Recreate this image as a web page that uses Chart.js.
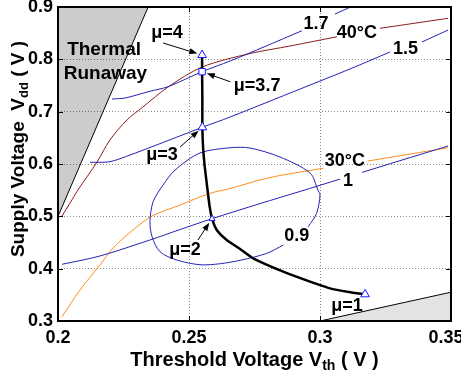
<!DOCTYPE html>
<html>
<head>
<meta charset="utf-8">
<script src="https://cdn.jsdelivr.net/npm/chart.js@4.4.0/dist/chart.umd.min.js"></script>
<style>
html, body { margin: 0; padding: 0; background: #fff; }
#wrap { width: 461px; height: 375px; }
</style>
</head>
<body>
<div id="wrap"><canvas id="chart"></canvas></div>
<script>
// axes
const xTicks = [0.2, 0.25, 0.3, 0.35];
const xTickLabels = ['0.2', '0.25', '0.3', '0.35'];
const yTicks = [0.3, 0.4, 0.5, 0.6, 0.7, 0.8, 0.9];
const yTickLabels = ['0.3', '0.4', '0.5', '0.6', '0.7', '0.8', '0.9'];

// shaded regions: thermal runaway (top left) and the lower right corner
const runawayX = [0.2, 0.2344];
const runawayY = [0.5, 0.9];
const lowX = [0.3, 0.35];
const lowY = [0.3, 0.355];

// iso lines (null = gap where the inline label sits)
const iso09X = [0.2860, 0.2797, 0.2700, 0.2620, 0.2542, 0.2454, 0.2389, 0.2359, 0.2351, 0.2363, 0.2401, 0.2447, 0.2542, 0.2657, 0.2733, 0.2847, 0.2962, 0.2992, 0.3000, 0.2987, 0.2955];
const iso09Y = [0.4452, 0.4293, 0.4165, 0.4095, 0.4075, 0.4165, 0.4324, 0.4611, 0.4897, 0.5279, 0.5598, 0.5885, 0.6210, 0.6311, 0.6305, 0.6134, 0.5828, 0.5503, 0.5407, 0.5058, 0.4801];

const iso1X = [0.2015, 0.2160, 0.2351, 0.2466, 0.2588, 0.2771, 0.2924, 0.3076, 0.3118, 0.3160, 0.3305, 0.3489];
const iso1Y = [0.4083, 0.4242, 0.4548, 0.4748, 0.4955, 0.5243, 0.5476, 0.5711, null, 0.5839, 0.6063, 0.6344];

const iso15X = [0.2122, 0.2198, 0.2275, 0.2351, 0.2551, 0.2657, 0.2924, 0.3115, 0.3267, 0.3328, 0.3389, 0.3489];
const iso15Y = [0.6032, 0.6044, 0.6172, 0.6315, 0.6701, 0.6898, 0.7433, 0.7817, 0.8140, null, 0.8331, 0.8560];

const iso17X = [0.2206, 0.2256, 0.2351, 0.2420, 0.2550, 0.2657, 0.2790, 0.2931, 0.2995, 0.3057, 0.3122];
const iso17Y = [0.7242, 0.7261, 0.7390, 0.7477, 0.7764, 0.7968, 0.8245, 0.8547, null, 0.8866, 0.9010];

// temperature lines
const t40X = [0.2015, 0.2046, 0.2076, 0.2149, 0.2198, 0.2263, 0.2324, 0.2420, 0.2550, 0.2733, 0.2886, 0.3065, 0.3147, 0.3229, 0.3489];
const t40Y = [0.5006, 0.5254, 0.5503, 0.6038, 0.6458, 0.6841, 0.7089, 0.7471, 0.7853, 0.8111, 0.8255, 0.8432, null, 0.8593, 0.8784];

const t30X = [0.2015, 0.2084, 0.2160, 0.2210, 0.2286, 0.2359, 0.2466, 0.2580, 0.2657, 0.2771, 0.2847, 0.3012, 0.3098, 0.3183, 0.3489];
const t30Y = [0.3081, 0.3592, 0.4070, 0.4394, 0.4739, 0.5006, 0.5216, 0.5440, 0.5532, 0.5694, 0.5780, 0.5918, null, 0.6057, 0.6311];

// optimum path (black)
const pathX = [0.2550, 0.2550, 0.2551, 0.2551, 0.2554, 0.2559, 0.2566, 0.2572, 0.2579, 0.2588, 0.2606, 0.2644, 0.2695, 0.2745, 0.2860, 0.2962, 0.3038, 0.3110, 0.3172];
const pathY = [0.8083, 0.7764, 0.7223, 0.6701, 0.6300, 0.6000, 0.5700, 0.5450, 0.5180, 0.4955, 0.4738, 0.4547, 0.4375, 0.4198, 0.3942, 0.3751, 0.3624, 0.3555, 0.3510];

// mu markers
const muX = [0.2550, 0.2550, 0.2551, 0.2588, 0.3172];
const muY = [0.8083, 0.7764, 0.6701, 0.4955, 0.3510];
const muLabels = ['μ=4', 'μ=3.7', 'μ=3', 'μ=2', 'μ=1'];
const muLabelX = [0.2416, 0.2760, 0.2397, 0.2485, 0.3103];
const muLabelY = [0.8503, 0.7490, 0.6172, 0.4356, 0.3286];
const arrowFromX = [0.2401, 0.2657, 0.2466, 0.2534];
const arrowFromY = [0.8312, 0.7572, 0.6325, 0.4547];

// inline curve labels
const curveLabels = ['1.7', '40°C', '1.5', '30°C', '1', '0.9'];
const curveLabelX = [0.2985, 0.3141, 0.3326, 0.3095, 0.3107, 0.2911];
const curveLabelY = [0.8680, 0.8503, 0.8197, 0.6048, 0.5675, 0.4624];
const regionLabels = ['Thermal', 'Runaway'];
const regionLabelX = [0.2176, 0.2181];
const regionLabelY = [0.8178, 0.7720];

const FONT = '"Liberation Sans", Arial, Helvetica, sans-serif';
const BLUE = '#2323b4';

const pts = (xs, ys) => xs.map((x, i) => ({ x: x, y: ys[i] }));

function line(data, color, width, order) {
    return {
        data: data,
        borderColor: color,
        borderWidth: width,
        pointRadius: 0,
        fill: false,
        tension: 0.3,
        spanGaps: false,
        order: order
    };
}

function arrow(ctx, x0, y0, x1, y1) {
    const a = Math.atan2(y1 - y0, x1 - x0);
    const c = Math.cos(a), s = Math.sin(a);
    const ex = x1 - 5 * c, ey = y1 - 5 * s;
    ctx.beginPath();
    ctx.moveTo(x0, y0);
    ctx.lineTo(ex - 4 * c, ey - 4 * s);
    ctx.stroke();
    ctx.beginPath();
    ctx.moveTo(ex, ey);
    ctx.lineTo(ex - 8 * c + 3 * s, ey - 8 * s - 3 * c);
    ctx.lineTo(ex - 8 * c - 3 * s, ey - 8 * s + 3 * c);
    ctx.closePath();
    ctx.fill();
}

// text with a subscript part
function richText(ctx, parts, cx, base, size, subSize) {
    let total = 0;
    parts.forEach(p => {
        ctx.font = 'bold ' + (p.sub ? subSize : size) + 'px ' + FONT;
        p.w = ctx.measureText(p.t).width;
        total += p.w;
    });
    let x = cx - total / 2;
    ctx.textAlign = 'left';
    ctx.textBaseline = 'alphabetic';
    parts.forEach(p => {
        ctx.font = 'bold ' + (p.sub ? subSize : size) + 'px ' + FONT;
        ctx.fillText(p.t, x, base + (p.sub ? 4 : 0));
        x += p.w;
    });
}

const overlay = {
    id: 'overlay',
    afterDatasetsDraw(chart) {
        const { ctx, scales: { x, y } } = chart;
        ctx.save();
        ctx.fillStyle = '#000';
        ctx.strokeStyle = '#000';
        ctx.lineWidth = 1;
        arrowFromX.forEach((v, i) => {
            arrow(ctx, x.getPixelForValue(v), y.getPixelForValue(arrowFromY[i]),
                x.getPixelForValue(muX[i]), y.getPixelForValue(muY[i]));
        });
        ctx.textAlign = 'center';
        ctx.textBaseline = 'middle';
        ctx.font = 'bold 18px ' + FONT;
        muLabels.forEach((t, i) => {
            ctx.fillText(t, x.getPixelForValue(muLabelX[i]), y.getPixelForValue(muLabelY[i]));
        });
        curveLabels.forEach((t, i) => {
            ctx.fillText(t, x.getPixelForValue(curveLabelX[i]), y.getPixelForValue(curveLabelY[i]));
        });
        ctx.font = 'bold 19px ' + FONT;
        regionLabels.forEach((t, i) => {
            ctx.fillText(t, x.getPixelForValue(regionLabelX[i]), y.getPixelForValue(regionLabelY[i]));
        });
        ctx.restore();
    },
    afterDraw(chart) {
        const { ctx, chartArea: a, scales: { x, y } } = chart;
        ctx.save();
        ctx.strokeStyle = '#000';
        ctx.lineWidth = 1;
        // inward tick marks
        ctx.beginPath();
        xTicks.slice(1, -1).forEach(v => {
            const px = Math.round(x.getPixelForValue(v)) + 0.5;
            ctx.moveTo(px, a.bottom); ctx.lineTo(px, a.bottom - 5);
            ctx.moveTo(px, a.top); ctx.lineTo(px, a.top + 5);
        });
        yTicks.slice(1, -1).forEach(v => {
            const py = Math.round(y.getPixelForValue(v)) + 0.5;
            ctx.moveTo(a.left, py); ctx.lineTo(a.left + 5, py);
            ctx.moveTo(a.right, py); ctx.lineTo(a.right - 5, py);
        });
        ctx.stroke();
        // frame
        ctx.lineWidth = 2;
        ctx.strokeRect(a.left, a.top, a.right - a.left, a.bottom - a.top);
        // axis titles
        ctx.fillStyle = '#000';
        richText(ctx, [{ t: 'Threshold Voltage V' }, { t: 'th', sub: true }, { t: ' ( V )' }],
            (a.left + a.right) / 2, 366, 20, 14);
        ctx.translate(24, 149);
        ctx.rotate(-Math.PI / 2);
        richText(ctx, [{ t: 'Supply Voltage  V' }, { t: 'dd', sub: true }, { t: ' ( V )' }],
            0, 0, 19, 13);
        ctx.restore();
    }
};

new Chart(document.getElementById('chart'), {
    type: 'line',
    data: {
        datasets: [
            {
                data: pts(runawayX, runawayY),
                borderColor: '#000', borderWidth: 1, pointRadius: 0,
                backgroundColor: 'rgba(0,0,0,0.2)', fill: 'end', order: 10
            },
            {
                data: pts(lowX, lowY),
                borderColor: '#000', borderWidth: 1, pointRadius: 0,
                backgroundColor: 'rgba(0,0,0,0.11)', fill: 'start', order: 10
            },
            line(pts(t30X, t30Y), '#ff8c1a', 1, 6),
            line(pts(t40X, t40Y), '#8e1b1b', 1, 6),
            line(pts(iso09X, iso09Y), BLUE, 1, 5),
            line(pts(iso1X, iso1Y), BLUE, 1, 5),
            line(pts(iso15X, iso15Y), BLUE, 1, 5),
            line(pts(iso17X, iso17Y), BLUE, 1, 5),
            Object.assign(line(pts(pathX, pathY), '#000', 2.5, 2), { tension: 0.2 }),
            {
                data: pts(muX, muY),
                showLine: false,
                pointStyle: ['triangle', 'rect', 'triangle', 'triangle', 'triangle'],
                pointRadius: [5, 4.5, 5, 3.5, 5],
                pointBorderColor: '#1a1aff',
                pointBackgroundColor: '#fff',
                pointBorderWidth: 1,
                order: 1
            }
        ]
    },
    options: {
        responsive: true,
        maintainAspectRatio: false,
        animation: false,
        layout: { padding: { left: 0, right: 10, top: 7, bottom: 0 } },
        plugins: { legend: { display: false }, tooltip: { enabled: false } },
        scales: {
            x: {
                type: 'linear',
                min: 0.2,
                max: 0.35,
                afterBuildTicks: s => { s.ticks = xTicks.map(v => ({ value: v })); },
                afterFit: s => { s.height = 54; s.paddingLeft = 0; s.paddingRight = 0; },
                ticks: {
                    autoSkip: false,
                    maxRotation: 0,
                    padding: 6,
                    color: '#000',
                    font: { family: FONT, size: 18, weight: 'bold' },
                    callback: (v, i) => i === xTickLabels.length - 1 ? xTickLabels[i] + '\u00a0\u00a0' : xTickLabels[i]
                },
                grid: { color: '#8a8a8a', lineWidth: 1, drawTicks: false },
                border: { display: false, dash: [1, 2] }
            },
            y: {
                type: 'linear',
                min: 0.3,
                max: 0.9,
                afterBuildTicks: s => { s.ticks = yTicks.map(v => ({ value: v })); },
                afterFit: s => { s.width = 58; s.paddingTop = 0; s.paddingBottom = 0; },
                ticks: {
                    autoSkip: false,
                    padding: 5,
                    color: '#000',
                    font: { family: FONT, size: 18, weight: 'bold' },
                    callback: (v, i) => yTickLabels[i]
                },
                grid: { color: '#8a8a8a', lineWidth: 1, drawTicks: false },
                border: { display: false, dash: [1, 2] }
            }
        }
    },
    plugins: [overlay]
});
</script>
</body>
</html>
